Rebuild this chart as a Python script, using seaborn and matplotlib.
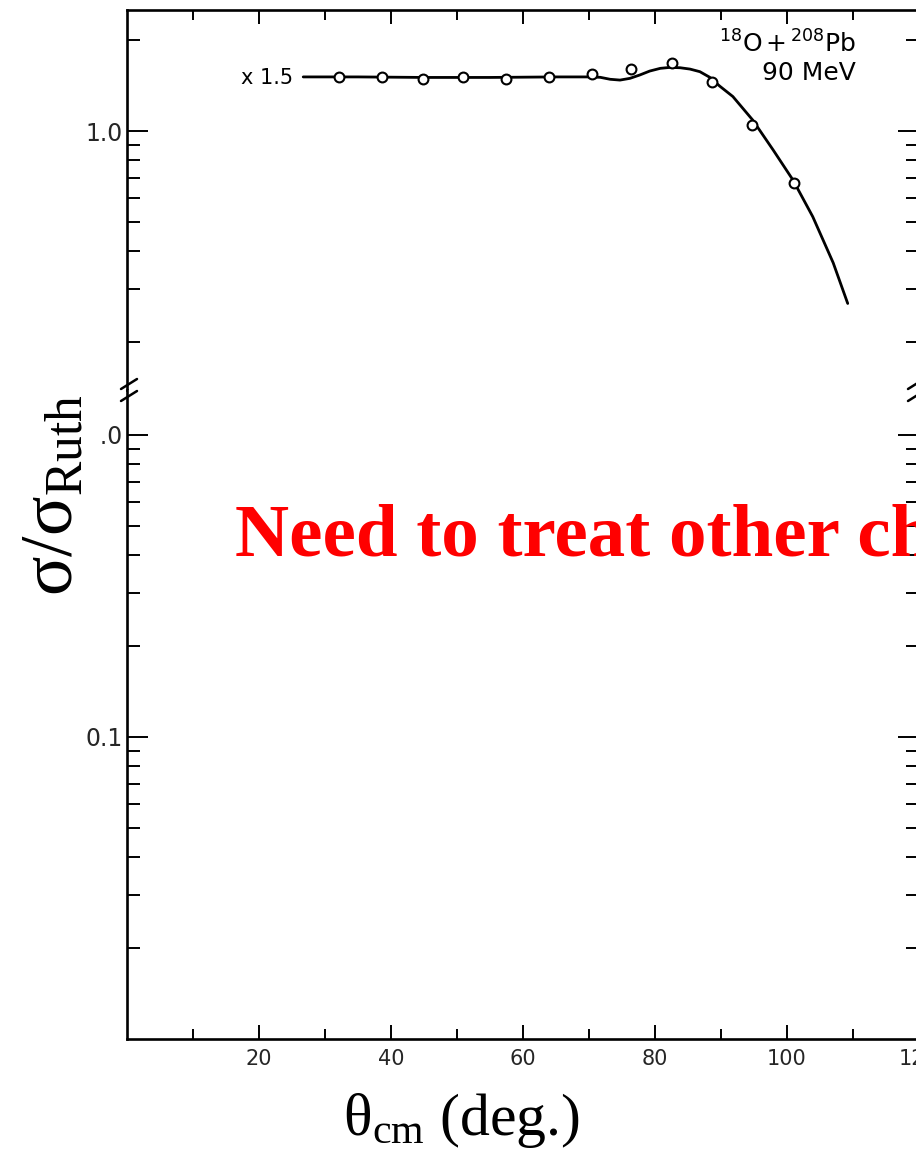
import matplotlib
matplotlib.use("Agg")
import matplotlib.pyplot as plt
from matplotlib.ticker import FixedLocator, FixedFormatter, NullFormatter
from matplotlib.lines import Line2D
import pandas as pd
import seaborn as sns

# 18O + 208Pb elastic scattering at 90 MeV, ratio to Rutherford (unscaled)
theta_data = [32.1, 38.6, 44.8, 50.9, 57.4, 63.9, 70.5, 76.4, 82.6, 88.6, 94.7, 101.1]
ratio_data = [1.007, 1.007, 0.993, 1.007, 0.993, 1.007, 1.027, 1.067, 1.12, 0.967, 0.70, 0.449]

# optical-model fit
theta_fit = [26.7, 35.0, 45.0, 55.0, 65.0, 70.0, 71.7, 73.2, 74.7, 76.2, 77.7, 79.2,
             80.8, 82.3, 83.8, 85.3, 86.8, 88.3, 89.8, 91.8, 94.8, 97.9, 100.9,
             103.9, 107.0, 109.2]
ratio_fit = [1.007, 1.007, 1.003, 1.003, 1.007, 1.007, 1.004, 0.989, 0.983, 0.996,
             1.022, 1.053, 1.075, 1.083, 1.080, 1.069, 1.048, 1.004, 0.939, 0.867,
             0.725, 0.577, 0.459, 0.347, 0.244, 0.179]

SCALE = 1.5  # display factor for this data set

x_major = [20, 40, 60, 80, 100, 120]
x_major_labels = ["20", "40", "60", "80", "100", "120"]
x_minor = [10, 30, 50, 70, 90, 110]

low_major = [0.1, 1.0]
low_major_labels = ["0.1", "1.0"]
low_minor = [0.02, 0.03, 0.04, 0.05, 0.06, 0.07, 0.08, 0.09,
             0.2, 0.3, 0.4, 0.5, 0.6, 0.7, 0.8, 0.9]
up_major = [1.0]
up_major_labels = ["1.0"]
up_minor = [0.2, 0.3, 0.4, 0.5, 0.6, 0.7, 0.8, 0.9, 2.0]

sns.set_theme(style="ticks")
plt.rcParams["font.family"] = ["DejaVu Sans"]
plt.rcParams["mathtext.fontset"] = "custom"
plt.rcParams["mathtext.rm"] = "Liberation Serif"
plt.rcParams["mathtext.it"] = "Liberation Serif:italic"
plt.rcParams["mathtext.bf"] = "Liberation Serif:bold"
plt.rcParams["mathtext.sf"] = "DejaVu Sans"

W, H = 916, 1160
fig = plt.figure(figsize=(W / 100, H / 100), dpi=100)
fig.patch.set_facecolor("white")

left_px, right_px = 127, 919
top_px, break_px, bottom_px = 10, 390, 1039

def frac_box(x0, x1, y0, y1):
    return [x0 / W, 1 - y1 / H, (x1 - x0) / W, (y1 - y0) / H]

ax_up = fig.add_axes(frac_box(left_px, right_px, top_px, break_px))
ax_lo = fig.add_axes(frac_box(left_px, right_px, break_px, bottom_px))

df_data = pd.DataFrame({"theta": theta_data,
                        "ratio": [SCALE * r for r in ratio_data]})
df_fit = pd.DataFrame({"theta": theta_fit,
                       "ratio": [SCALE * r for r in ratio_fit]})

sns.lineplot(data=df_fit, x="theta", y="ratio", ax=ax_up, color="black",
             linewidth=2.0, sort=False, estimator=None)
sns.scatterplot(data=df_data, x="theta", y="ratio", ax=ax_up, marker="o",
                s=50, facecolor="white", edgecolor="black", linewidth=1.5,
                zorder=5)

for ax in (ax_up, ax_lo):
    ax.set_yscale("log")
    ax.set_xlim(0, 120)
    ax.set_xlabel("")
    ax.set_ylabel("")
    ax.set_facecolor("white")
    for side in ("left", "right", "top", "bottom"):
        ax.spines[side].set_linewidth(1.9)
        ax.spines[side].set_color("black")
    ax.xaxis.set_major_locator(FixedLocator(x_major))
    ax.xaxis.set_minor_locator(FixedLocator(x_minor))
    ax.tick_params(axis="both", which="both", direction="in", color="black",
                   width=1.4)
    ax.tick_params(axis="y", which="major", length=15, left=True, right=True,
                   labelsize=17, pad=3)
    ax.tick_params(axis="y", which="minor", length=9.5, left=True, right=True)
    ax.tick_params(axis="x", which="major", length=10)
    ax.tick_params(axis="x", which="minor", length=7)

ax_up.set_ylim(0.1388, 2.516)
ax_lo.set_ylim(0.01, 1.409)

ax_up.spines["bottom"].set_visible(False)
ax_lo.spines["top"].set_visible(False)
ax_up.tick_params(axis="x", which="both", top=True, bottom=False,
                  labeltop=False, labelbottom=False)
ax_lo.tick_params(axis="x", which="both", top=False, bottom=True,
                  labelbottom=True, labelsize=15, pad=7)
ax_lo.xaxis.set_major_formatter(FixedFormatter(x_major_labels))

ax_up.yaxis.set_major_locator(FixedLocator(up_major))
ax_up.yaxis.set_major_formatter(FixedFormatter(up_major_labels))
ax_up.yaxis.set_minor_locator(FixedLocator(up_minor))
ax_up.yaxis.set_minor_formatter(NullFormatter())
ax_lo.yaxis.set_major_locator(FixedLocator(low_major))
ax_lo.yaxis.set_major_formatter(FixedFormatter(low_major_labels))
ax_lo.yaxis.set_minor_locator(FixedLocator(low_minor))
ax_lo.yaxis.set_minor_formatter(NullFormatter())

# scale factor and reaction labels
ax_up.text(25.2, SCALE * 1.0, "x 1.5", ha="right", va="center", fontsize=15,
           color="black")
ax_up.text(0.92, 0.887, r"$\mathsf{{}^{18}O + {}^{208}Pb}$", transform=ax_up.transAxes,
           ha="right", va="baseline", fontsize=18, color="black")
ax_up.text(0.92, 0.816, "90 MeV", transform=ax_up.transAxes, ha="right",
           va="baseline", fontsize=18, color="black")

# axis-break marks on both vertical spines
for xc in (left_px + 2, right_px - 3):
    for yc in (384, 396):
        fig.add_artist(Line2D([(xc - 8) / W, (xc + 8) / W],
                              [1 - (yc + 5) / H, 1 - (yc - 5) / H],
                              transform=fig.transFigure, color="black",
                              linewidth=1.8))

# axis titles
fig.text(55 / W, 1 - 495 / H, "σ/σ$_{\\mathrm{Ruth}}$", rotation=90,
         ha="center", va="center", fontsize=53, family="Liberation Serif",
         color="black",
         bbox=dict(facecolor="white", edgecolor="none", pad=9))
fig.text(461 / W, 1 - 1135 / H, "θ$_{\\mathrm{cm}}$ (deg.)", ha="center",
         va="baseline", fontsize=43, family="Liberation Serif", color="black")

# overlaid remark
fig.text(235 / W, 1 - 555 / H, "Need to treat other channels",
         ha="left", va="baseline", fontsize=54, family="Liberation Serif",
         fontweight="bold", color="#ff0000")

fig.savefig("out.png", dpi=100, facecolor="white")
